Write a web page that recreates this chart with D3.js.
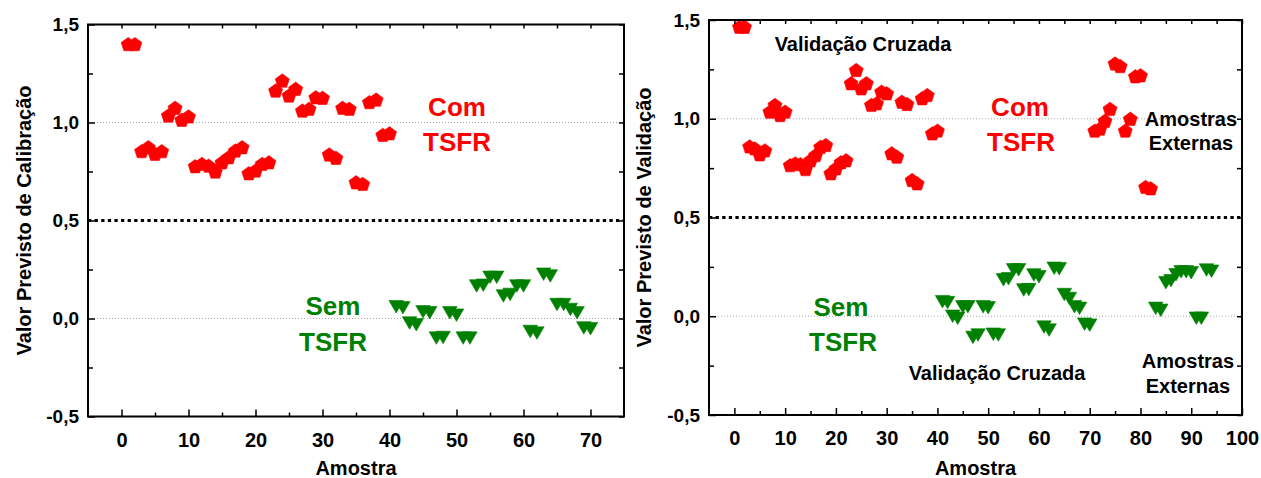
<!DOCTYPE html>
<html><head><meta charset="utf-8">
<script src="https://cdn.jsdelivr.net/npm/d3@7"></script>
<style>
body{margin:0;background:#fff}
svg{display:block}
text{font-family:"Liberation Sans",Arial,Helvetica,sans-serif;font-weight:bold}
</style>
</head><body>
<svg id="chart" width="1261" height="478"></svg>
<script>
// ---------- DATA ----------
// Left panel: calibration
const calComX = [1,2,3,4,5,6,7,8,9,10,11,12,13,14,15,16,17,18,19,20,21,22,23,24,25,26,27,28,29,30,31,32,33,34,35,36,37,38,39,40];
const calComY = [1.40,1.40,0.854,0.874,0.84,0.854,1.036,1.075,1.014,1.031,0.777,0.789,0.78,0.75,0.797,0.823,0.857,0.874,0.741,0.755,0.789,0.797,1.163,1.214,1.138,1.172,1.061,1.07,1.129,1.126,0.837,0.82,1.075,1.07,0.695,0.687,1.104,1.117,0.937,0.945];
const calSemX = [41,42,43,44,45,46,47,48,49,50,51,52,53,54,55,56,57,58,59,60,61,62,63,64,65,66,67,68,69,70];
const calSemY = [0.06,0.055,-0.023,-0.032,0.034,0.029,-0.1,-0.097,0.029,0.017,-0.1,-0.1,0.166,0.17,0.21,0.21,0.115,0.123,0.166,0.166,-0.066,-0.074,0.226,0.217,0.071,0.071,0.046,0.029,-0.048,-0.052];

// Right panel: validation (cross validation + external samples)
const valComX = [1,2,3,4,5,6,7,8,9,10,11,12,13,14,15,16,17,18,19,20,21,22,23,24,25,26,27,28,29,30,31,32,33,34,35,36,37,38,39,40];
const valComY = [1.466,1.466,0.86,0.85,0.82,0.84,1.036,1.07,1.019,1.036,0.765,0.774,0.77,0.745,0.79,0.816,0.858,0.867,0.724,0.749,0.78,0.79,1.18,1.247,1.154,1.18,1.07,1.078,1.137,1.129,0.825,0.808,1.086,1.075,0.69,0.673,1.104,1.12,0.926,0.94];
const valSemX = [41,42,43,44,45,46,47,48,49,50,51,52,53,54,55,56,57,58,59,60,61,62,63,64,65,66,67,68,69,70];
const valSemY = [0.074,0.069,0.0,-0.01,0.048,0.048,-0.107,-0.095,0.048,0.043,-0.091,-0.095,0.185,0.19,0.235,0.235,0.133,0.135,0.209,0.2,-0.055,-0.07,0.243,0.24,0.11,0.09,0.048,0.04,-0.04,-0.045];
const extComX = [71,72,73,74,75,76,77,78,79,80,81,82];
const extComY = [0.94,0.95,0.99,1.05,1.28,1.267,0.94,1.0,1.215,1.22,0.655,0.648];
const extSemX = [83,84,85,86,87,88,89,90,91,92,93,94];
const extSemY = [0.04,0.03,0.17,0.18,0.21,0.225,0.225,0.22,-0.01,-0.01,0.234,0.228];

const yTickValues = [-0.5,0.0,0.5,1.0,1.5];
const yTickLabels = ["-0,5","0,0","0,5","1,0","1,5"];
const yMinorValues = [-0.25,0.25,0.75,1.25];
const calXTicks = [0,10,20,30,40,50,60,70];
const calXMinor = [5,15,25,35,45,55,65];
const valXTicks = [0,10,20,30,40,50,60,70,80,90,100];
const valXMinor = [5,15,25,35,45,55,65,75,85,95];
const gridLines = [0.0,1.0];
const cutoff = 0.5;

// ---------- DRAW ----------
const svg = d3.select("#chart");
const RED = "#ff0000", GREEN = "#008000";
const fmt = d => yTickLabels[yTickValues.indexOf(d)];

function pentagonPath(r){
  const pts = d3.range(5).map(k => {
    const a = -Math.PI/2 + k*2*Math.PI/5;
    return [r*Math.cos(a), r*Math.sin(a) + 0.095*r];
  });
  return "M" + pts.map(p => p.join(",")).join("L") + "Z";
}
function triDownPath(w,h){
  return `M${-w/2},${-h/2}L${w/2},${-h/2}L0,${h/2}Z`;
}

function panel(cfg){
  const x = d3.scaleLinear().domain(cfg.xDomain).range([cfg.x0, cfg.x1]);
  const y = d3.scaleLinear().domain([-0.5,1.5]).range([cfg.y1, cfg.y0]);
  const g = svg.append("g");

  g.selectAll(".grid").data(gridLines).enter().append("line")
    .attr("x1", cfg.x0).attr("x2", cfg.x1)
    .attr("y1", d => y(d)).attr("y2", d => y(d))
    .attr("stroke", "#a8a8a8").attr("stroke-width", 1).attr("stroke-dasharray", "1,2");
  g.append("line").attr("x1", cfg.x0).attr("x2", cfg.x1)
    .attr("y1", y(cutoff)).attr("y2", y(cutoff))
    .attr("stroke", "#000").attr("stroke-width", 3).attr("stroke-dasharray", "3.3,3.3");

  const pent = pentagonPath(7.4), tri = triDownPath(14.5, 12.5);
  cfg.series.forEach(s => {
    g.selectAll(null).data(s.x.map((v,i)=>[v, s.y[i]])).enter().append("path")
      .attr("d", s.shape === "pent" ? pent : tri)
      .attr("transform", d => `translate(${x(d[0])},${y(d[1])})`)
      .attr("fill", s.color).attr("stroke", s.color).attr("stroke-width", 0.6);
  });

  const styleAxis = (sel, size) => {
    sel.select(".domain").remove();
    sel.selectAll("line").attr("stroke", "#000").attr("stroke-width", 1.5);
    sel.selectAll("text").attr("fill", "#000").style("font-size", size + "px");
  };
  g.append("g").attr("transform", `translate(0,${cfg.y1})`)
    .call(d3.axisBottom(x).tickValues(cfg.xTicks).tickSize(-7).tickPadding(16).tickFormat(d3.format("d")))
    .call(styleAxis, 20);
  g.append("g").attr("transform", `translate(0,${cfg.y1})`)
    .call(d3.axisBottom(x).tickValues(cfg.xMinor).tickSize(-4).tickFormat(""))
    .call(styleAxis, 20);
  g.append("g").attr("transform", `translate(0,${cfg.y0})`)
    .call(d3.axisTop(x).tickValues(cfg.xTicks.concat(cfg.xMinor)).tickSize(-4).tickFormat(""))
    .call(styleAxis, 20);
  g.append("g").attr("transform", `translate(${cfg.x0},0)`)
    .call(d3.axisLeft(y).tickValues(yTickValues).tickSize(-7).tickPadding(9).tickFormat(fmt))
    .call(styleAxis, 19);
  g.append("g").attr("transform", `translate(${cfg.x0},0)`)
    .call(d3.axisLeft(y).tickValues(yMinorValues).tickSize(-5).tickFormat(""))
    .call(styleAxis, 19);
  g.append("g").attr("transform", `translate(${cfg.x1},0)`)
    .call(d3.axisRight(y).tickValues(yTickValues.concat(yMinorValues)).tickSize(-5).tickFormat(""))
    .call(styleAxis, 19);

  g.append("rect").attr("x", cfg.x0).attr("y", cfg.y0)
    .attr("width", cfg.x1 - cfg.x0).attr("height", cfg.y1 - cfg.y0)
    .attr("fill", "none").attr("stroke", "#000").attr("stroke-width", 2);

  svg.append("text").attr("x", (cfg.x0 + cfg.x1)/2).attr("y", 475)
    .attr("text-anchor", "middle").style("font-size", "20px").text("Amostra");
  svg.append("text").attr("transform", `translate(${cfg.yTitleX},${(cfg.y0+cfg.y1)/2}) rotate(-90)`)
    .attr("text-anchor", "middle").attr("dy", "0.35em").style("font-size", "20px").text(cfg.yTitle);

  cfg.notes.forEach(n => {
    svg.append("text").attr("x", n.x).attr("y", n.y).attr("dy", "0.35em")
      .attr("text-anchor", "middle").attr("fill", n.color)
      .style("font-size", n.size + "px").text(n.t);
  });
}

panel({
  x0: 88, x1: 624, y0: 24.5, y1: 416.5, xDomain: [-5, 75],
  xTicks: calXTicks, xMinor: calXMinor,
  yTitle: "Valor Previsto de Calibração", yTitleX: 24,
  series: [
    {x: calComX, y: calComY, shape: "pent", color: RED},
    {x: calSemX, y: calSemY, shape: "tri", color: GREEN}
  ],
  notes: [
    {t: "Com", x: 457, y: 107, color: RED, size: 26},
    {t: "TSFR", x: 457, y: 142, color: RED, size: 26},
    {t: "Sem", x: 333, y: 306, color: GREEN, size: 26},
    {t: "TSFR", x: 333, y: 342, color: GREEN, size: 26}
  ]
});

panel({
  x0: 709, x1: 1242, y0: 20, y1: 415, xDomain: [-5, 100],
  xTicks: valXTicks, xMinor: valXMinor,
  yTitle: "Valor Previsto de Validação", yTitleX: 644,
  series: [
    {x: valComX, y: valComY, shape: "pent", color: RED},
    {x: extComX, y: extComY, shape: "pent", color: RED},
    {x: valSemX, y: valSemY, shape: "tri", color: GREEN},
    {x: extSemX, y: extSemY, shape: "tri", color: GREEN}
  ],
  notes: [
    {t: "Validação Cruzada", x: 863, y: 44, color: "#000", size: 20},
    {t: "Com", x: 1020, y: 107, color: RED, size: 26},
    {t: "TSFR", x: 1021, y: 142, color: RED, size: 26},
    {t: "Amostras", x: 1191, y: 119, color: "#000", size: 20},
    {t: "Externas", x: 1191, y: 143, color: "#000", size: 20},
    {t: "Sem", x: 841, y: 307, color: GREEN, size: 26},
    {t: "TSFR", x: 843, y: 342, color: GREEN, size: 26},
    {t: "Validação Cruzada", x: 997, y: 373, color: "#000", size: 20},
    {t: "Amostras", x: 1188, y: 361, color: "#000", size: 20},
    {t: "Externas", x: 1188, y: 386, color: "#000", size: 20}
  ]
});
</script>
</body></html>
